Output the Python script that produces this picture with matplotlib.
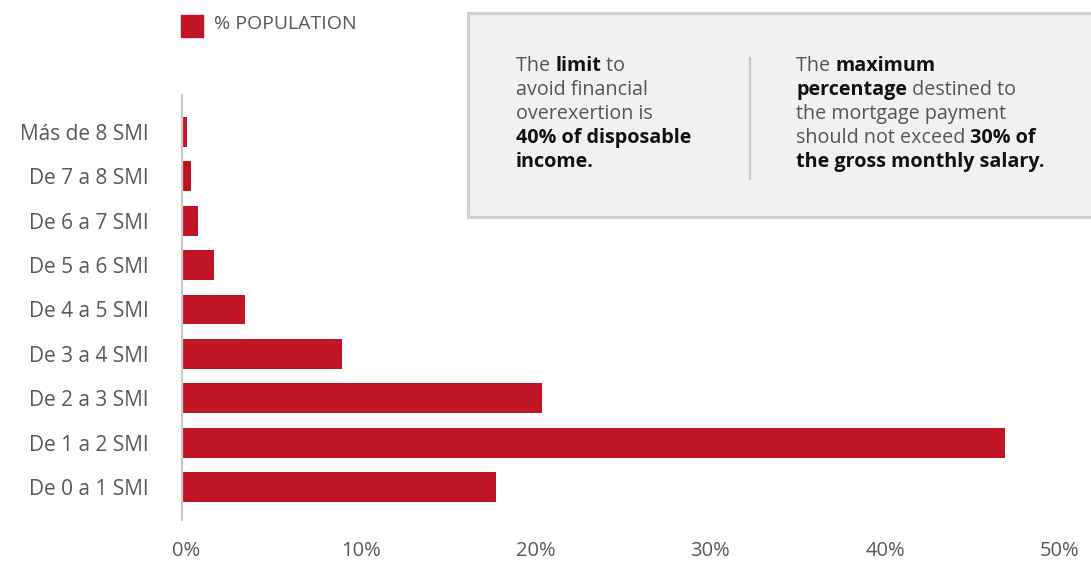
import numpy as np
import matplotlib
matplotlib.use("Agg")
import matplotlib.pyplot as plt
from matplotlib.patches import Rectangle
from matplotlib.lines import Line2D
from matplotlib.transforms import ScaledTranslation

plt.rcParams['font.family'] = ['Open Sans', 'DejaVu Sans']

categories = ['De 0 a 1 SMI', 'De 1 a 2 SMI', 'De 2 a 3 SMI', 'De 3 a 4 SMI',
              'De 4 a 5 SMI', 'De 5 a 6 SMI', 'De 6 a 7 SMI', 'De 7 a 8 SMI',
              'Más de 8 SMI']
population = [17.96, 47.1, 20.6, 9.15, 3.6, 1.83, 0.92, 0.51, 0.29]
xticks = [0, 10, 20, 30, 40, 50]
xticklabels = ['0%', '10%', '20%', '30%', '40%', '50%']
legend_label = '% POPULATION'

left_lines = [[('The ', 'normal'), ('limit', 'bold'), (' to', 'normal')],
              [('avoid financial', 'normal')],
              [('overexertion is', 'normal')],
              [('40% of disposable', 'bold')],
              [('income.', 'bold')]]
right_lines = [[('The ', 'normal'), ('maximum', 'bold')],
               [('percentage', 'bold'), (' destined to', 'normal')],
               [('the mortgage payment', 'normal')],
               [('should not exceed ', 'normal'), ('30% of', 'bold')],
               [('the gross monthly salary.', 'bold')]]

RED = '#c01525'
GREY_TXT = '#5e5658'
W, H = 1091, 561

fig = plt.figure(figsize=(W / 100, H / 100), dpi=100)
ax = fig.add_axes([182 / W, 1 - 520 / H, 874 / W, (520 - 95) / H])

y = np.arange(len(categories))
ax.barh(y, population, height=0.675, color=RED)
ax.set_xlim(0, 50)
ax.set_ylim(-0.74, 8.83)
ax.set_yticks(y)
ax.set_yticklabels(categories, fontsize=15, color=GREY_TXT)
ax.set_xticks(xticks)
ax.set_xticklabels(xticklabels, fontsize=14.5, color=GREY_TXT)
ax.tick_params(axis='both', length=0)
ax.tick_params(axis='y', pad=24)
ax.tick_params(axis='x', pad=15)
for lab in ax.get_xticklabels():
    lab.set_transform(lab.get_transform() + ScaledTranslation(4 / 100, 0, fig.dpi_scale_trans))
for s in ['top', 'right', 'bottom']:
    ax.spines[s].set_visible(False)
ax.spines['left'].set_color('#cccccc')
ax.spines['left'].set_linewidth(1.6)

# legend
fig.patches.append(Rectangle((181 / W, 1 - 37 / H), 22 / W, 22 / H,
                             transform=fig.transFigure, color=RED))
fig.text(214 / W, 1 - 24 / H, legend_label, fontsize=14, color=GREY_TXT,
         va='center', ha='left')

# info box
fig.patches.append(Rectangle((468 / W, 1 - 217 / H), 700 / W, 204 / H,
                             transform=fig.transFigure, facecolor='#f1f1f1',
                             edgecolor='#d0d0d0', linewidth=2.2))
fig.lines.append(Line2D([750 / W, 750 / W], [1 - 58 / H, 1 - 179 / H],
                        transform=fig.transFigure, color='#c8c8c8', linewidth=1.6))

renderer = fig.canvas.get_renderer()


def draw_block(lines, x0, y0):
    for i, segs in enumerate(lines):
        x = x0
        yy = 1 - (y0 + i * 24) / H
        for txt, wt in segs:
            t = fig.text(x, yy, txt, fontsize=14.2, fontweight=wt,
                         color='#111111' if wt == 'bold' else '#555555',
                         va='center', ha='left')
            bb = t.get_window_extent(renderer)
            x = bb.x1 / W


draw_block(left_lines, 516 / W, 66)
draw_block(right_lines, 796 / W, 66)

fig.savefig('out.png', dpi=100)
